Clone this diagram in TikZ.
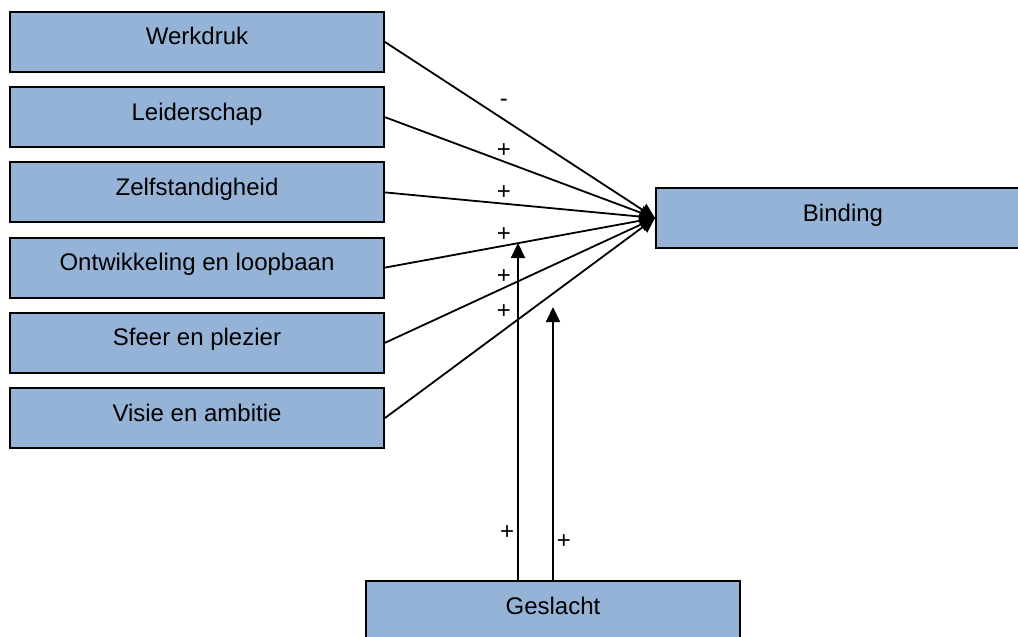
\documentclass[tikz,border=0pt]{standalone}
\usepackage{fontspec}
\setmainfont{Liberation Sans}
\usepackage{tikz}
\usetikzlibrary{positioning,arrows.meta}
\definecolor{boxblue}{RGB}{149,179,215}

\begin{document}
\begin{tikzpicture}[x=1pt, y=-1pt, node distance={75.2pt}, line width=1.8pt, >={Triangle[length=15pt,width=14pt]},
    main/.style = {draw, line width=2pt, fill=boxblue, minimum width=374pt, minimum height=60pt, inner sep=0pt, text height=17pt, text depth=11pt, font=\fontsize{24}{28}\selectfont},
    sign/.style = {font=\fontsize{24}{28}\selectfont, inner sep=3pt}]
        \path[use as bounding box, clip] (0,0) rectangle (1018,637);

        \node[main] (n_1) at (197,42) {Werkdruk};
        \node[main] (n_2) [below of=n_1] {Leiderschap};
        \node[main] (n_3) [below of=n_2] {Zelfstandigheid};
        \node[main] (n_4) [below of=n_3] {Ontwikkeling en loopbaan};
        \node[main] (n_5) [below of=n_4] {Sfeer en plezier};
        \node[main] (n_6) [below of=n_5] {Visie en ambitie};
        \node[main] (n_7) at (843,218) {Binding};
        \node[main] (n_8) at (553,611) {Geslacht};
        \coordinate (t_1) at (518,243);
        \coordinate (t_2) at (553,307);

        \draw[->] (n_1.east) -- node[sign, pos=0.44, above, yshift=9pt] {-} (n_7.west);
        \draw[->] (n_2.east) -- node[sign, pos=0.44, above] {+} (n_7.west);
        \draw[->] (n_3.east) -- node[sign, pos=0.44, above] {+} (n_7.west);
        \draw[->] (n_4.east) -- node[sign, pos=0.44, above] {+} (n_7.west);
        \draw[->] (n_5.east) -- node[sign, pos=0.44, above] {+} (n_7.west);
        \draw[->] (n_6.east) -- node[sign, pos=0.44, above, yshift=8pt] {+} (n_7.west);

        \draw[->] ([xshift=-35pt]n_8.north) -- node[sign, pos=0.14, left] {+} (t_1);
        \draw[->] (n_8.north) -- node[sign, pos=0.14, right] {+} (t_2);
    \end{tikzpicture}
\end{document}
